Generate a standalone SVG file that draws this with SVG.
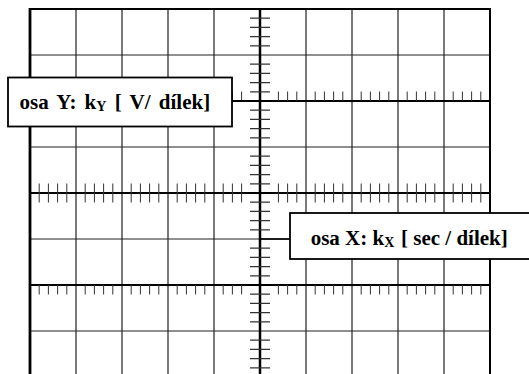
<svg xmlns="http://www.w3.org/2000/svg" xmlns:xlink="http://www.w3.org/1999/xlink" width="529" height="374" viewBox="0 0 529 374">
<style>
.thin{stroke:#222;stroke-width:1.2;fill:none}
.thick{stroke:#000;stroke-width:2;fill:none}
.tick{stroke:#333;stroke-width:1;fill:none}
.box{fill:#fff;stroke:#000;stroke-width:1.8}
.lbl{font-family:"Liberation Serif","Times New Roman",serif;font-weight:bold;font-size:21px;fill:#000}
.sub{font-size:14px}
.conn{stroke:#000;stroke-width:1.6;fill:none}
</style>
<defs>
<path id="hticks" d="M39.2 0v-9.5M48.4 0v-9.5M57.6 0v-9.5M66.8 0v-9.5M85.2 0v-9.5M94.4 0v-9.5M103.6 0v-9.5M112.8 0v-9.5M131.2 0v-9.5M140.4 0v-9.5M149.6 0v-9.5M158.8 0v-9.5M177.2 0v-9.5M186.4 0v-9.5M195.6 0v-9.5M204.8 0v-9.5M223.2 0v-9.5M232.4 0v-9.5M241.6 0v-9.5M278.4 0v-9.5M287.6 0v-9.5M296.8 0v-9.5M315.2 0v-9.5M324.4 0v-9.5M333.6 0v-9.5M342.8 0v-9.5M361.2 0v-9.5M370.4 0v-9.5M379.6 0v-9.5M388.8 0v-9.5M407.2 0v-9.5M416.4 0v-9.5M425.6 0v-9.5M434.8 0v-9.5M453.2 0v-9.5M462.4 0v-9.5M471.6 0v-9.5M480.8 0v-9.5"/>
</defs>
<rect width="529" height="374" fill="#fff"/>
<g id="graticule">
<path class="thin" d="M76 9V377M122 9V377M168 9V377M214 9V377M306 9V377M352 9V377M398 9V377M444 9V377M30 55H490M30 147H490M30 239H490M30 331H490"/>
<path class="thick" d="M30 101H490M30 193H490M30 285H490"/>
<path class="thick" style="stroke-width:2.5" d="M260 9V377"/>
<rect class="thick" x="30" y="9" width="460" height="368"/>
<path class="thick" style="stroke-width:2.8" d="M30 8V377"/>
<g class="tick">
<use xlink:href="#hticks" y="101"/>
<use xlink:href="#hticks" y="193"/>
<use xlink:href="#hticks" transform="translate(0,193) scale(1,-1)"/>
<use xlink:href="#hticks" transform="translate(0,285) scale(1,-1)"/>
</g>
<path class="tick" style="stroke-width:1.3" d="M250 18.2h20M250 27.4h20M250 36.6h20M250 45.8h20M250 64.2h20M250 73.4h20M250 82.6h20M250 91.8h20M250 110.2h20M250 119.4h20M250 128.6h20M250 137.8h20M250 156.2h20M250 165.4h20M250 174.6h20M250 183.8h20M250 202.2h20M250 211.4h20M250 220.6h20M250 229.8h20M250 248.2h20M250 257.4h20M250 266.6h20M250 275.8h20M250 294.2h20M250 303.4h20M250 312.6h20M250 321.8h20M250 340.2h20M250 349.4h20M250 358.6h20M250 367.8h20"/>
</g>
<g id="connectors">
<path class="conn" d="M232 101H260"/>
<path class="conn" d="M260 239H290"/>
</g>
<g id="label-y">
<rect class="box" x="8" y="77.5" width="224" height="49"/>
<text class="lbl" x="19.5" y="109" style="word-spacing:3px">osa Y: k<tspan class="sub" dy="2">Y</tspan><tspan dy="-2"> [ V/ dílek]</tspan></text>
</g>
<g id="label-x">
<rect class="box" x="290" y="213" width="250" height="46"/>
<text class="lbl" x="310.7" y="245">osa X: k<tspan class="sub" dy="2">X</tspan><tspan x="401" dy="-2">[ sec / dílek]</tspan></text>
</g>
</svg>
